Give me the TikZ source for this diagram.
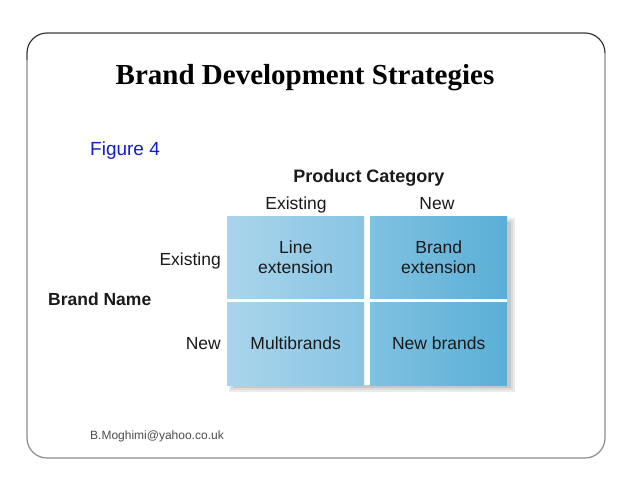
\documentclass[tikz,border=0pt]{standalone}
\usepackage{fontspec}
\setmainfont{Liberation Sans}
\newfontfamily\serifbold{Liberation Serif}
\usetikzlibrary{shadows,calc}
\definecolor{cA}{HTML}{A9D5EB}
\definecolor{cB}{HTML}{88C4E3}
\definecolor{cC}{HTML}{80C1E1}
\definecolor{cD}{HTML}{5AAFD6}
\definecolor{txt}{HTML}{1A1A1A}
\tikzset{
  cell/.style={minimum width=137pt, minimum height=82pt, inner sep=0pt, align=center, font=\fontsize{17.5}{19.5}\selectfont, text=txt},
  lbl/.style={font=\fontsize{17.5}{19.5}\selectfont, text=txt, inner sep=0pt},
}
\begin{document}
\begin{tikzpicture}[x=1pt,y=-1pt]
\useasboundingbox (0,0) rectangle (638,493);
\fill[white] (0,0) rectangle (638,493);
% frame
\draw[line width=1.2pt, black!45, rounded corners=20pt] (27,33) rectangle (605,458);
\draw[line width=0.8pt, black!85] (27,60) -- (27,53) to[out=90,in=180] (47,33) -- (585,33) to[out=0,in=90] (605,53);
% title
\node[font=\serifbold\bfseries\fontsize{29}{33}\selectfont, anchor=base] (title) at (305,84) {Brand Development Strategies};
\node[font=\fontsize{19}{22}\selectfont, text={rgb,255:red,20;green,30;blue,200}, anchor=base west, inner sep=0pt] (fig) at (90,155) {Figure 4};
% shadow
\fill[black!8] (229,218) rectangle (515,392);
\fill[black!14] (231,220) rectangle (513,390);
\fill[black!22] (233,222) rectangle (511,388);
\fill[white] (227,216) rectangle (507,385);
% cells
\node[cell, left color=cA, right color=cB, anchor=north west] (c11) at (227,216) {Line\\extension};
\node[cell, left color=cC, right color=cD, anchor=north west] (c12) at (370,216) {Brand\\extension};
\node[cell, left color=cA, right color=cB, anchor=north west, minimum height=83pt] (c21) at (227,302) {Multibrands};
\node[cell, left color=cC, right color=cD, anchor=north west, minimum height=83pt] (c22) at (370,302) {New brands};
% labels
\node[lbl, font=\bfseries\fontsize{18}{20}\selectfont, anchor=base] (pc) at (369,182) {Product Category};
\node[lbl, anchor=base] (ex1) at (296,209) {Existing};
\node[lbl, anchor=base] (nw1) at (437,209) {New};
\node[lbl, anchor=base east] (ex2) at (221,265) {Existing};
\node[lbl, anchor=base east] (nw2) at (221,349) {New};
\node[lbl, font=\bfseries\fontsize{17.5}{19.5}\selectfont, anchor=base west] (bn) at (48,305) {Brand Name};
\node[font=\fontsize{12}{14}\selectfont, text=black!70, anchor=base west, inner sep=0pt] (mail) at (90,439) {B.Moghimi@yahoo.co.uk};
\end{tikzpicture}
\end{document}
